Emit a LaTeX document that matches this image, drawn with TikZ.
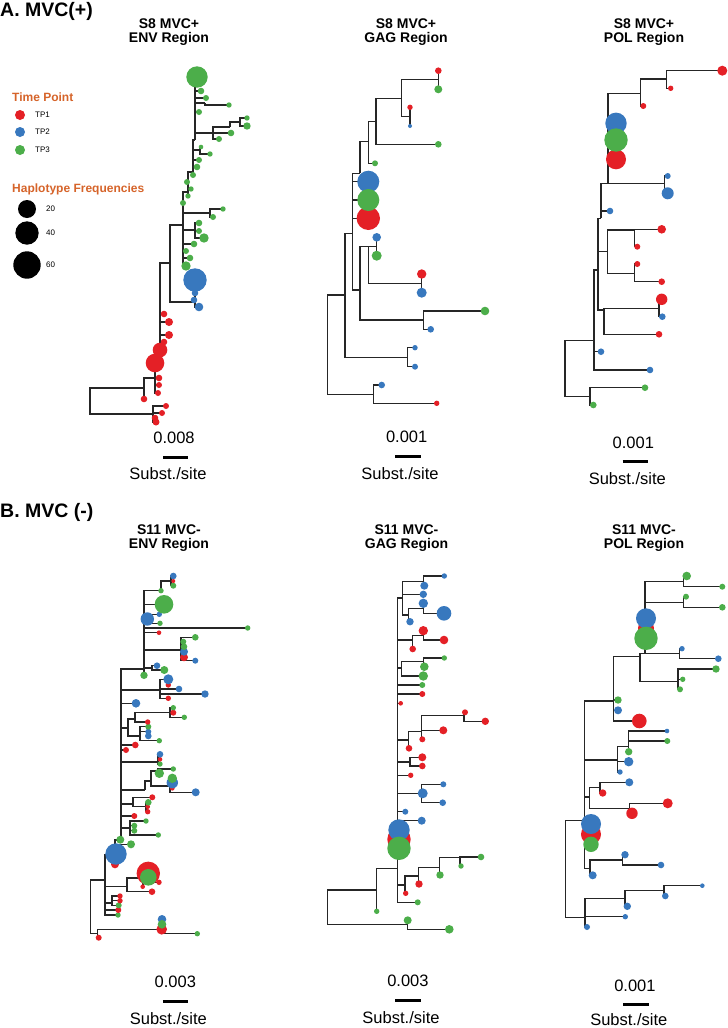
\documentclass[tikz,border=0pt]{standalone}
\usepackage{fontspec}
\setmainfont{Liberation Sans}
\usepackage{xcolor}
\usepackage{tikz}
\definecolor{tpr}{RGB}{228,32,38}
\definecolor{tpb}{RGB}{56,120,190}
\definecolor{tpg}{RGB}{76,174,74}
\definecolor{lgorange}{RGB}{214,100,42}
\begin{document}
\begin{tikzpicture}[x=1pt,y=-1pt,
tree/.style={draw=black!85,line width=1.2pt},
sbar/.style={draw=black,line width=3pt},
panel/.style={anchor=base west,inner sep=0pt,font=\bfseries\fontsize{19.5}{20}\selectfont},
ttl/.style={align=center,inner sep=0pt,font=\bfseries\fontsize{14}{14}\selectfont},
slab/.style={inner sep=0pt,font=\fontsize{16.5}{17}\selectfont},
lgt/.style={anchor=west,inner sep=0pt,text=lgorange,font=\bfseries\fontsize{12}{12}\selectfont},
lgl/.style={anchor=west,inner sep=0pt,font=\fontsize{8}{8}\selectfont}]
\useasboundingbox (0,0) rectangle (728,1028);
\fill[white] (0,0) rectangle (728,1028);

\node[panel] (pa) at (0,16.5) {A. MVC(+)};
\node[panel] (pb) at (0,517) {B. MVC (-)};

\node[ttl] (tenva) at (169,32) {S8 MVC+\\ENV Region};
\node[ttl] (tgaga) at (406,32) {S8 MVC+\\GAG Region};
\node[ttl] (tpola) at (644,32) {S8 MVC+\\POL Region};
\node[ttl] (tenvb) at (169,538.5) {S11 MVC-\\ENV Region};
\node[ttl] (tgagb) at (406.5,538.5) {S11 MVC-\\GAG Region};
\node[ttl] (tpolb) at (644,538.5) {S11 MVC-\\POL Region};

\node[lgt] (ltime) at (12,97) {Time Point};
\fill[tpr] (20,115) circle (5pt);
\fill[tpb] (20,132) circle (5pt);
\fill[tpg] (20,150) circle (5pt);
\node[lgl] (ltp1) at (35,115) {TP1};
\node[lgl] (ltp2) at (35,132) {TP2};
\node[lgl] (ltp3) at (35,150) {TP3};
\node[lgt] (lhap) at (12,189) {Haplotype Frequencies};
\fill[black] (27,209) circle (9pt);
\fill[black] (27,233) circle (11.7pt);
\fill[black] (27,265) circle (13.7pt);
\node[lgl] (lf20) at (46,209) {20};
\node[lgl] (lf40) at (46,233) {40};
\node[lgl] (lf60) at (46,265) {60};

\foreach \a/\b/\c/\d in {90/401/144/388, 90/401/153/414,
153/414/166/406, 153/414/162/413, 153/414/155/418, 153/414/156/422,
144/388/144/399, 144/388/155/378,
155/378/159/378, 155/378/159/385, 155/378/158/393, 155/378/155/363, 155/378/160/350,
160/350/164/342, 160/350/169/335, 160/350/169/322, 160/350/164/314, 160/350/170/263,
170/263/195/302, 170/263/183/225,
195/302/199/307, 195/302/194/300, 195/302/195/293, 195/302/195/280,
183/225/195/230, 183/225/210/213, 183/225/194/244, 183/225/186/251, 183/225/190/258, 183/225/186/266, 183/225/183/203, 183/225/188/192,
195/230/199/223, 195/230/199/231, 195/230/204/238,
210/213/223/209, 210/213/213/217,
188/192/191/189, 188/192/188/196, 188/192/187/182, 188/192/193/172,
193/172/193/175, 193/172/197/167, 193/172/199/160, 193/172/200/150, 193/172/195/140,
200/150/201/147, 200/150/210/154,
195/140/213/133, 195/140/199/112, 195/140/205/103, 195/140/206/98, 195/140/201/91, 195/140/197/77,
213/133/231/133, 213/133/219/139, 213/133/230/127,
230/127/240/122, 240/122/247/118, 240/122/247/126, 205/103/229/105}
  \draw[tree] (\a,\b) |- (\c,\d);
\foreach \x/\y/\r/\c in {166/406/3/tpr, 162/413/3/tpr, 155/418/3.3/tpr, 156/422/3.5/tpr,
144/399/3.3/tpr, 159/378/3.3/tpr, 159/385/3/tpr, 158/393/3/tpr, 155/363/9.3/tpr, 160/350/7.3/tpr,
164/342/3.3/tpr, 169/335/4/tpr, 169/322/4/tpr, 164/314/3.3/tpr,
199/223/3.3/tpg, 199/231/3/tpg, 204/238/4.7/tpg, 223/209/2.7/tpg, 213/217/3/tpg, 194/244/3.3/tpg,
186/251/3/tpg, 190/258/3.3/tpg, 186/266/4.7/tpg, 183/203/3/tpg, 191/189/2.7/tpg, 188/196/2.7/tpg,
187/182/3/tpg, 193/175/3/tpg, 197/167/3.3/tpg, 199/160/3/tpg, 201/147/2.3/tpg, 210/154/2.7/tpg,
231/133/3.3/tpg, 219/139/3/tpg, 247/118/2.7/tpg, 247/126/3.7/tpg, 199/112/3/tpg, 229/105/2.7/tpg,
206/98/3/tpg, 201/91/3.3/tpg, 197/77/10.7/tpg,
199/307/4.3/tpb, 194/300/3.3/tpb, 195/293/3.3/tpb, 195/280/11.7/tpb}
  \fill[fill=\c] (\x,\y) circle (\r pt);

\foreach \a/\b/\c/\d in {327.7/345/345/295, 327.7/345/373.3/394.3,
373.3/394.3/381.7/385, 373.3/394.3/436.7/403.3,
345/295/407.3/357.3, 345/295/352.7/233.3,
407.3/357.3/415/347.7, 407.3/357.3/415/366.7,
352.7/233.3/360/290, 352.7/233.3/360/173.3, 352.7/233.3/368.3/181.7, 352.7/233.3/368.3/200, 352.7/233.3/368.3/218.3,
360/290/368.3/246.7, 360/290/423.3/320,
368.3/246.7/376.7/246.5, 368.3/246.7/421.7/283.3,
376.7/246.5/376.7/237.3, 376.7/246.5/376.7/255.7,
421.7/283.3/421.7/274, 421.7/283.3/421.7/292.7,
423.3/320/485/311, 423.3/320/430.7/329.3,
360/173.3/368.3/141.7,
368.3/141.7/375/163.3, 368.3/141.7/376/121.7,
376/121.7/438.3/144.3, 376/121.7/401.7/98.3,
401.7/98.3/438.3/79.3, 401.7/98.3/410/116.7,
438.3/79.3/438.3/70.7, 438.3/79.3/438.3/89.3,
410/116.7/410/107.3, 410/116.7/410/126}
  \draw[tree] (\a,\b) |- (\c,\d);
\foreach \x/\y/\r/\c in {436.7/403.3/2.7/tpr, 381.7/385/3.3/tpb, 415/347.7/2.7/tpb, 415/366.7/3/tpb,
430.7/329.3/3.3/tpb, 485/311/4.3/tpg, 421.7/274/4.7/tpr, 421.7/292.7/5/tpb, 376.7/237.3/4.3/tpb,
376.7/255.7/5/tpg, 368.3/218.3/11.7/tpr, 368.3/181.7/11/tpb, 368.3/200/11/tpg, 375/163.3/3/tpg,
438.3/144.3/3.3/tpg, 410/107.3/2.7/tpr, 410/126/2/tpb, 438.3/70.7/3.3/tpr, 438.3/89.3/4/tpg}
  \fill[fill=\c] (\x,\y) circle (\r pt);

\foreach \a/\b/\c/\d in {565/368.7/594/340.7, 565/368.7/590/396.7,
590/396.7/645/387.7, 590/396.7/593.3/405,
594/340.7/650/370, 594/340.7/601/351.7, 594/340.7/598/270,
598/270/604/310, 598/270/607.3/251.7, 598/270/601/218.3,
604/310/659/308.3, 604/310/659/334.3,
659/308.3/661.7/299.3, 659/308.3/662.3/316.7,
607.3/251.7/634.3/230, 607.3/251.7/634.3/273.3,
634.3/230/661.7/229.3, 634.3/230/637.3/246.7,
634.3/273.3/637.3/264, 634.3/273.3/661.7/281.7,
601/218.3/610/211, 601/218.3/608/183.3,
608/183.3/664.3/183.3, 608/183.3/616/159.3, 608/183.3/616/140, 608/183.3/616/123.3, 608/183.3/640.7/93.3,
664.3/183.3/667.7/176, 664.3/183.3/667.7/193.3,
640.7/93.3/666.7/79, 640.7/93.3/643.3/106,
666.7/79/722.3/70.7, 666.7/79/670.7/88.3}
  \draw[tree] (\a,\b) |- (\c,\d);
\foreach \x/\y/\r/\c in {722.3/70.7/5/tpr, 670.7/88.3/2.7/tpr, 643.3/106/3/tpr, 616/159.3/10/tpr,
616/123.3/10.7/tpb, 616/140/11.7/tpg, 667.7/176/3/tpb, 667.7/193.3/6/tpb, 610/211/3.3/tpb,
661.7/229.3/4.3/tpr, 637.3/246.7/3/tpr, 637.3/264/3/tpr, 661.7/281.7/3.3/tpr, 661.7/299.3/5.7/tpr,
662.3/316.7/3.3/tpb, 659/334.3/3.3/tpr, 601/351.7/3.3/tpb, 650/370/3.3/tpb, 645/387.7/3.3/tpg,
593.3/405/3.3/tpg}
  \fill[fill=\c] (\x,\y) circle (\r pt);

\foreach \a/\b/\c/\d in {90.3/906.7/105/880, 90.3/906.7/97.7/933.3,
97.7/933.3/98.7/937.7, 97.7/933.3/161.7/929.3,
161.7/929.3/162/919.3, 161.7/929.3/162/924.3, 161.7/929.3/197.3/933.7,
105/880/118/915, 105/880/118.3/910, 105/880/112/903, 105/880/127/886.7, 105/880/115/854.3,
112/903/120/896, 112/903/120/900.7, 112/903/118.7/905.3,
127/886.7/143/878, 127/886.7/152/891.7,
143/878/148.3/873.3, 143/878/159/882.3, 143/878/142.7/886.7,
115/854.3/116/854, 115/854.3/115/864.3, 115/854.3/131/844.3, 115/854.3/121/840,
121/840/120.3/839.7, 121/840/130/828, 121/840/134.3/816, 121/840/133/804, 121/840/145/790,
121/840/158/762, 121/840/126/750, 121/840/135.3/745, 121/840/128/728, 121/840/136/703.3,
121/840/160/690, 121/840/144/669,
130/828/146/821, 130/828/134.3/825.7, 130/828/134.3/830.7, 130/828/158.3/835,
133/804/152.3/797.3, 133/804/146/806.7,
146/806.7/148.3/802.3, 146/806.7/147.7/811.7,
145/790/151/781, 151/781/158/771, 151/781/170/786,
158/771/173.3/769, 158/771/159.3/773.3,
170/786/172.3/778.3, 170/786/195.7/792.3,
158/762/160/754.3, 158/762/160/764,
128/728/135/719, 128/728/140/736,
135/719/170/712.7, 135/719/147.7/722,
170/712.7/173.3/707.7, 170/712.7/184.3/717.3,
140/736/148.3/726.7, 140/736/148.3/731.7, 140/736/159.3/740.7,
160/690/168.3/679.3, 160/690/179/689, 160/690/205/694, 160/690/168.3/698.3,
144/669/144/675.3, 144/669/152/668, 144/669/181/650, 144/669/247.7/628, 144/669/160/623.3,
144/669/159/632.7, 144/669/159.3/614.3, 144/669/164/604.3, 144/669/161/590.7,
152/668/157/665.7, 152/668/164.3/670,
181/650/195.3/637.3, 181/650/195.3/660.7,
161/590.7/171/581, 171/581/173.3/576, 171/581/173.3/585.7}
  \draw[tree] (\a,\b) |- (\c,\d);
\foreach \x/\y/\r/\c in {98.7/937.7/3/tpr, 161.7/929.3/5.3/tpr, 162/919.3/4.3/tpb, 162/924.3/4.3/tpg,
197.3/933.7/2.7/tpg, 118/915/2.7/tpg, 118.3/910/3/tpr, 118.7/905.3/3/tpg, 120/900.7/2.7/tpr,
120/896/2.7/tpr, 152/891.7/3.3/tpr, 142.7/886.7/2.3/tpr, 159/882.3/2.7/tpr, 148.3/873.3/11.7/tpr,
148.3/877.3/8.3/tpg, 115/864.3/4/tpr, 116/854/10.7/tpb, 131/844.3/4/tpg, 120.3/839.7/4/tpg,
158.3/835/2.7/tpg, 134.3/830.7/3/tpg, 134.3/825.7/3/tpg, 146/821/2.7/tpg, 134.3/816/3/tpr,
147.7/811.7/2.7/tpr, 147.7/806.7/2.3/tpr, 148.3/802.3/3.3/tpg, 152.3/797.3/3/tpr,
195.7/792.3/4/tpb, 172.3/788.3/2.3/tpr, 172.3/782.7/5.7/tpb, 172.3/778.3/4.7/tpg,
159.3/773.3/4.7/tpg, 173.3/769/2.7/tpg, 160/764/2.7/tpg, 160/759.3/2.3/tpr, 160/754.3/3.3/tpb,
126/750/3/tpr, 135.3/745/3.3/tpr, 159.3/740.7/2.7/tpg, 148.3/736/3.3/tpb, 148.3/731.7/3/tpb,
148.3/726.7/3/tpg, 147.7/722/2.7/tpr, 184.3/717.3/2.7/tpg, 173.3/712.7/3/tpr, 173.3/707.7/2.7/tpg,
136/703.3/4.3/tpb, 168.3/698.3/2.7/tpr, 205/694/3.7/tpb, 179/689/3.3/tpb, 168.3/685/2.7/tpr,
168.3/679.3/5/tpb, 144/675.3/3.7/tpg, 164.3/670/4/tpg, 157/665.7/3.3/tpb, 195.3/660.7/3/tpb,
184/657.3/4/tpr, 184/651.7/4/tpb, 184/646.7/3.3/tpg, 183.3/641.7/3/tpg, 195.3/637.3/3.3/tpg,
159/632.7/2.3/tpr, 247.7/628/2.7/tpg, 160/623.3/2.7/tpg, 147.3/619/6.7/tpb, 159.3/614.3/2.7/tpb,
164/604.3/9.3/tpg, 161/590.7/2.7/tpg, 173.3/585.7/3/tpg, 173.3/581/2/tpr, 173.3/576/3.3/tpb}
  \fill[fill=\c] (\x,\y) circle (\r pt);

\foreach \a/\b/\c/\d in {327.7/907/376.7/890, 327.7/907/407.3/924.7,
407.3/924.7/407.7/920.3, 407.3/924.7/449.3/929.3,
376.7/890/376.7/911.3, 376.7/890/397.7/868.3,
397.7/868.3/417.7/902.3, 397.7/868.3/405/885, 397.7/868.3/399/848.3, 397.7/868.3/421.7/820.7,
397.7/868.3/405.3/811.7, 397.7/868.3/421.3/793.3, 397.7/868.3/410.7/775.3, 397.7/868.3/410/762,
397.7/868.3/408.3/740, 397.7/868.3/400.7/703.3, 397.7/868.3/422.3/694, 397.7/868.3/422.3/685,
397.7/868.3/401.7/668, 397.7/868.3/412.7/640, 397.7/868.3/402.7/598,
405/885/418.3/876, 405/885/405.7/893.3,
418.3/876/439.3/867.7, 418.3/876/419/884,
439.3/867.7/460/857.3, 439.3/867.7/440/875,
460/857.3/481/857, 460/857.3/461/866,
421.3/793.3/443.3/784.3, 421.3/793.3/442.7/802.7,
410/762/422.3/757.3, 410/762/422.3/766,
408.3/740/421.7/731.7, 408.3/740/409/748.3,
421.7/731.7/464/715.7, 421.7/731.7/443.3/730.3, 421.7/731.7/422.3/739.3,
464/715.7/465/712.3, 464/715.7/485.3/721.3,
401.7/668/423.3/661.7, 401.7/668/423.3/676,
423.3/661.7/444.3/658, 423.3/661.7/424.3/666.7,
412.7/640/423.3/635.7, 412.7/640/412.7/649,
423.3/635.7/423.3/630.7, 423.3/635.7/444/640,
402.7/598/423.3/581.7, 402.7/598/423.3/594.3, 402.7/598/408.3/615,
423.3/581.7/444.3/576, 423.3/581.7/424.3/585.7,
408.3/615/423.3/608.3, 408.3/615/410/621.7,
423.3/608.3/423.3/603.3, 423.3/608.3/444/613.3}
  \draw[tree] (\a,\b) |- (\c,\d);
\foreach \x/\y/\r/\c in {449.3/929.3/4.3/tpg, 407.7/920.3/4/tpg, 376.7/911.3/2.7/tpg, 417.7/902.3/3/tpg,
405.7/893.3/2.7/tpr, 419/884/3.7/tpr, 440/875/3.7/tpg, 461/866/2.7/tpg, 481/857/3.3/tpg,
399/839.3/11.7/tpr, 399/830/10.7/tpb, 399/848.3/11.7/tpg,
421.7/820.7/4/tpb, 405.3/811.7/3/tpb, 442.7/802.7/3.3/tpb, 422.7/793.3/5/tpb, 443.3/784.3/3/tpb,
410.7/775.3/2.7/tpr, 422.3/766/3.3/tpr, 422.3/757.3/4/tpr, 409/748.3/3.3/tpr, 422.3/739.3/3/tpr,
443.3/730.3/4/tpr, 485.3/721.3/3.7/tpr, 465/712.3/3/tpr, 400.7/703.3/2.3/tpr, 422.3/694/3/tpr,
422.3/685/3/tpg, 423.3/676/4.7/tpg, 424.3/666.7/4.3/tpg, 444.3/658/2.7/tpg, 412.7/649/3.3/tpr,
444/640/4.3/tpr, 423.3/630.7/4.7/tpr, 410/621.7/3.7/tpb, 444/613.3/7.3/tpb, 423.3/603.3/4.7/tpb,
423.3/594.3/3.7/tpb, 424.3/585.7/4/tpb, 444.3/576/2.7/tpb}
  \fill[fill=\c] (\x,\y) circle (\r pt);

\foreach \a/\b/\c/\d in {565.3/869/584.5/820.7, 565.3/869/585/917.7,
585/917.7/587/927, 585/917.7/625.3/916.7, 585/917.7/625/898.3,
625/898.3/664/890.7, 625/898.3/627.3/906.3,
664/890.7/702.3/885.7, 664/890.7/665.3/896,
584.5/820.7/590/868.3, 584.5/820.7/591/844.3, 584.5/820.7/591/824, 584.5/820.7/589.3/797,
584.5/820.7/617.7/760, 584.5/820.7/613.3/701,
590/868.3/622.3/860, 590/868.3/592.7/875.3,
622.3/860/625/854.7, 622.3/860/661/865,
589.3/797/600/787.3, 589.3/797/629.3/808.3,
600/787.3/629.3/782.3, 600/787.3/602.7/793,
629.3/808.3/667.7/803.3, 629.3/808.3/632/813.3,
617.7/760/628.3/746.7, 617.7/760/628.7/761.7, 617.7/760/620/772,
628.3/746.7/667/731, 628.3/746.7/667.3/741, 628.3/746.7/628.7/751.7,
613.3/701/618/700, 613.3/701/618/710.3, 613.3/701/639.3/721, 613.3/701/640/656.7,
640/656.7/678/681.7, 640/656.7/679.3/653.3, 640/656.7/645/653.3,
678/681.7/716/669, 678/681.7/682.7/679.3, 678/681.7/680/689.3,
679.3/653.3/682/648.7, 679.3/653.3/718.3/658.7,
645/653.3/646/638.3, 645/653.3/683.3/602.3, 645/653.3/683.3/581.7,
683.3/581.7/686.7/576, 683.3/581.7/722.3/586.7,
683.3/602.3/686/596.7, 683.3/602.3/722.3/607.3}
  \draw[tree] (\a,\b) |- (\c,\d);
\foreach \x/\y/\r/\c in {587/927/3/tpb, 625.3/916.7/2.7/tpb, 627.3/906.3/3.7/tpb, 665.3/896/3.3/tpb,
702.3/885.7/2.3/tpb, 592.7/875.3/4/tpb, 661/865/3.3/tpb, 625/854.7/3.7/tpb,
591/834.3/10/tpr, 591/824/10/tpb, 591/844.3/7.7/tpg,
632/813.3/5.7/tpr, 667.7/803.3/5/tpr, 602.7/793/3.7/tpr, 629.3/782.3/4/tpb, 620/772/2.7/tpb,
628.7/761.7/4.7/tpb, 628.7/751.7/3.7/tpg, 667.3/741/3/tpg, 667/731/2.3/tpb, 639.3/721/7.3/tpr,
618/710.3/4/tpb, 618/700/3.7/tpg, 680/689.3/3/tpg, 682.7/679.3/2.7/tpg, 716/669/3.7/tpg,
718.3/658.7/3.3/tpb, 682/648.7/2.7/tpb, 646/628.3/8/tpr, 646/618.3/10/tpb, 646/638.3/11.7/tpg,
722.3/607.3/3.3/tpg, 686/596.7/3/tpg, 722.3/586.7/3/tpg, 686.7/576/4.3/tpg}
  \fill[fill=\c] (\x,\y) circle (\r pt);

\node[slab] (sa1) at (174,438) {0.008};
\draw[sbar] (163,457) -- (188,457);
\node[slab] (ua1) at (168,474) {Subst./site};
\node[slab] (sa2) at (406.7,436.7) {0.001};
\draw[sbar] (395,456) -- (420.7,456);
\node[slab] (ua2) at (400,473.3) {Subst./site};
\node[slab] (sa3) at (633.3,442.7) {0.001};
\draw[sbar] (622.7,461.7) -- (648.3,461.7);
\node[slab] (ua3) at (627.3,478.3) {Subst./site};
\node[slab] (sb1) at (175.3,982.3) {0.003};
\draw[sbar] (162.8,1001.7) -- (188.4,1001.7);
\node[slab] (ub1) at (168.4,1018.3) {Subst./site};
\node[slab] (sb2) at (407.9,981) {0.003};
\draw[sbar] (395.3,1000) -- (421,1000);
\node[slab] (ub2) at (401,1017.3) {Subst./site};
\node[slab] (sb3) at (634.9,985.5) {0.001};
\draw[sbar] (623.3,1004.5) -- (648.8,1004.5);
\node[slab] (ub3) at (628.8,1019.2) {Subst./site};
\end{tikzpicture}
\end{document}
